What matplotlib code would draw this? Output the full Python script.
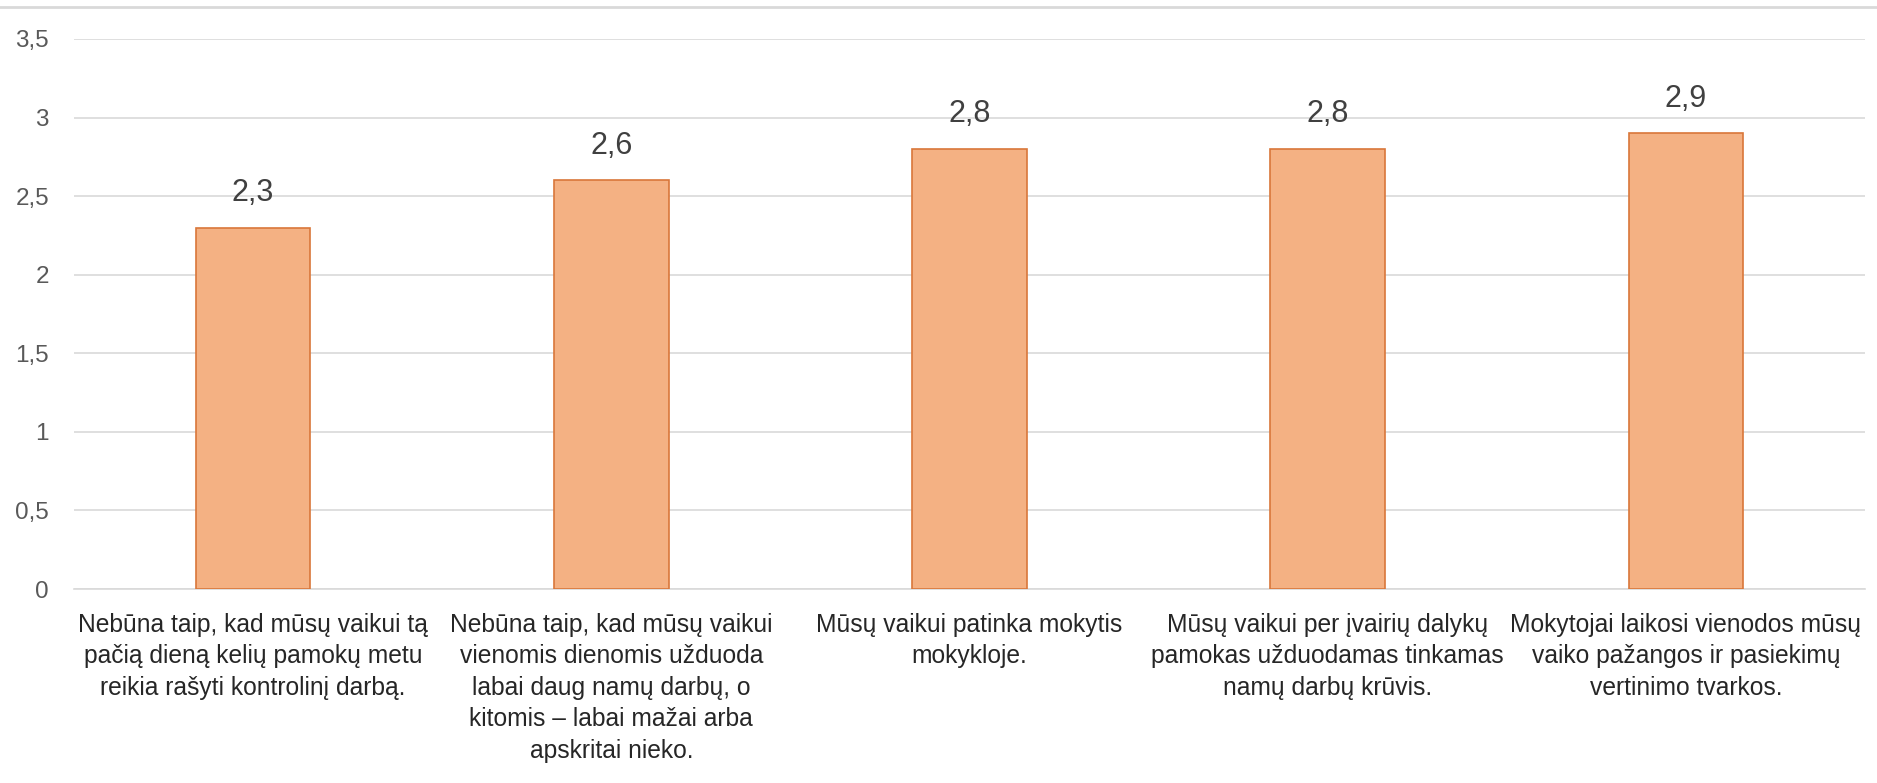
"""
Bar chart of mean agreement scores (Lithuanian survey statements).
"""
import matplotlib
matplotlib.use('Agg')
import matplotlib.pyplot as plt
from matplotlib.lines import Line2D

plt.rcParams['font.family'] = ['Liberation Sans Narrow', 'Liberation Sans', 'DejaVu Sans']

categories = [
    "Nebūna taip, kad mūsų vaikui tą\npačią dieną kelių pamokų metu\nreikia rašyti kontrolinį darbą.",
    "Nebūna taip, kad mūsų vaikui\nvienomis dienomis užduoda\nlabai daug namų darbų, o\nkitomis – labai mažai arba\napskritai nieko.",
    "Mūsų vaikui patinka mokytis\nmokykloje.",
    "Mūsų vaikui per įvairių dalykų\npamokas užduodamas tinkamas\nnamų darbų krūvis.",
    "Mokytojai laikosi vienodos mūsų\nvaiko pažangos ir pasiekimų\nvertinimo tvarkos.",
]
values = [2.3, 2.6, 2.8, 2.8, 2.9]
yticks = [0, 0.5, 1, 1.5, 2, 2.5, 3, 3.5]
ytick_labels = ['0', '0,5', '1', '1,5', '2', '2,5', '3', '3,5']

W, H = 1877, 783
fig = plt.figure(figsize=(W / 100, H / 100), dpi=100)
ax = fig.add_axes([74 / W, 1 - 589 / H, (1865 - 74) / W, (589 - 39) / H])

x = list(range(len(values)))
ax.bar(x, values, width=0.32, color='#F4B183', edgecolor='#D9773A', linewidth=1.2, zorder=3)

for xi, v in zip(x, values):
    ax.annotate(f"{v:.1f}".replace('.', ','), (xi, v), xytext=(0, 25),
                textcoords='offset points', ha='center', va='center',
                fontsize=22, color='#404040')

ax.set_xlim(-0.5, len(values) - 0.5)
ax.set_ylim(0, 3.5)
ax.set_yticks(yticks)
ax.set_yticklabels(ytick_labels)
ax.yaxis.grid(True, color='#D9D9D9', linewidth=1.2, zorder=0)
ax.set_axisbelow(True)
ax.tick_params(axis='y', length=0, pad=18, labelsize=17.5, labelcolor='#595959')
ax.tick_params(axis='x', length=0, pad=17)
ax.set_xticks(x)
ax.set_xticklabels(categories, fontsize=17.7, color='#262626', linespacing=1.4, va='top')

for s in ['top', 'right', 'left']:
    ax.spines[s].set_visible(False)
ax.spines['bottom'].set_color('#D9D9D9')
ax.spines['bottom'].set_linewidth(1.2)

# chart border line at the top
fig.add_artist(Line2D([0, 1], [1 - 7 / H, 1 - 7 / H], transform=fig.transFigure,
                      color='#D9D9D9', linewidth=2))

fig.savefig('out.png', dpi=100, facecolor='white')
